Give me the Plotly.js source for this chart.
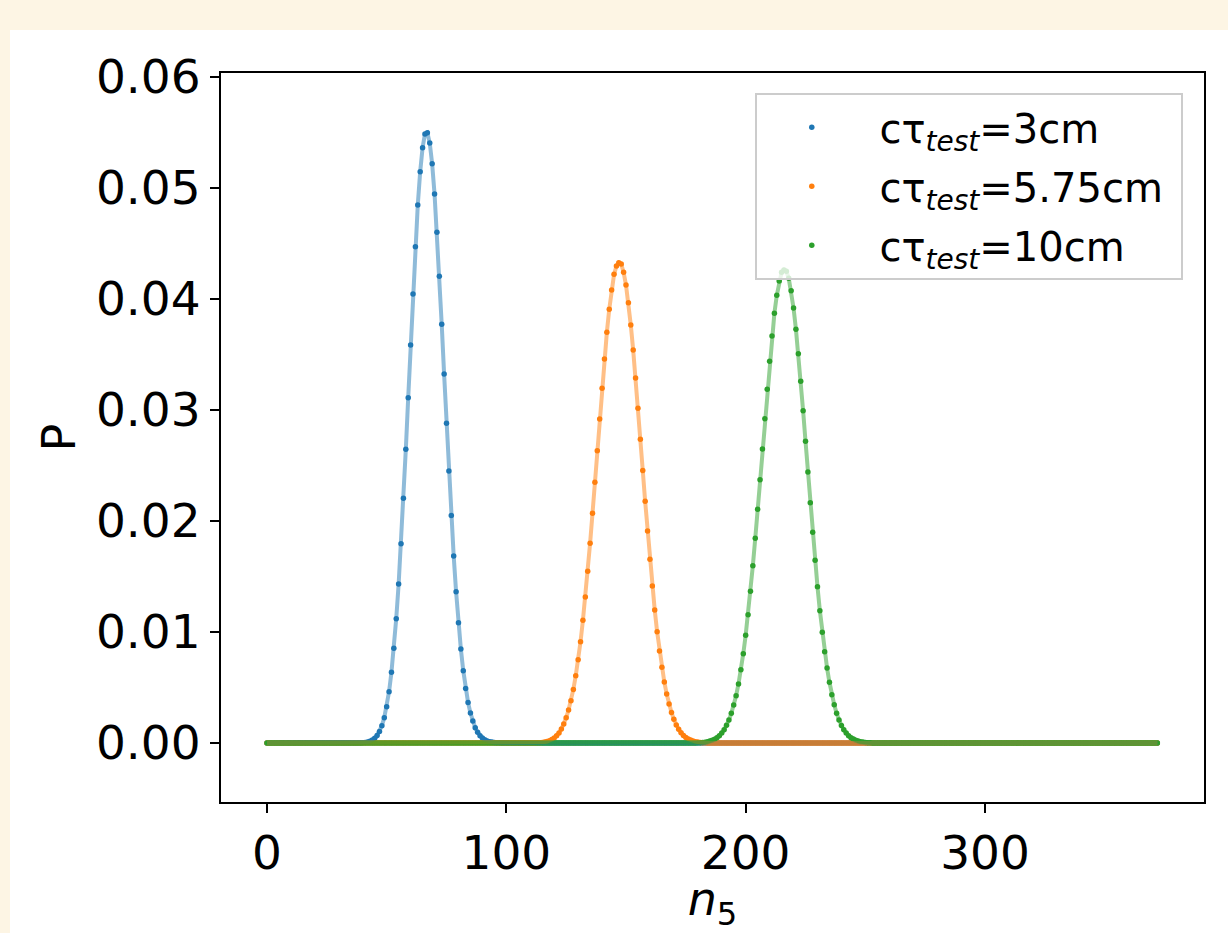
<!DOCTYPE html>
<html>
<head>
<meta charset="utf-8">
<script src="https://cdn.plot.ly/plotly-3.0.1.min.js"></script>
<style>
  html, body { margin: 0; padding: 0; background: #fdf5e4; width: 1228px; height: 933px; overflow: hidden; }
  #chart { position: absolute; left: 10px; top: 30px; width: 1218px; height: 903px; background: #ffffff; }
</style>
</head>
<body>
<div id="chart"></div>
<script>
// n5 runs over integers 0..372
const nMax = 372;
const seriesNames = ["\u00A0cτ<sub><i>test</i></sub>=3cm", "\u00A0cτ<sub><i>test</i></sub>=5.75cm\u00A0", "\u00A0cτ<sub><i>test</i></sub>=10cm"];
const seriesColors = ["#1f77b4", "#ff7f0e", "#2ca02c"];

// non-zero part of each series, starting at the given n5; all other n5 are 0
const blueStart = 39;
const blueVals = [0.00001, 0.00003, 0.00005, 0.00009, 0.00016, 0.00027, 0.00043, 0.00068, 0.00104, 0.00156,
  0.00228, 0.00327, 0.00462, 0.00637, 0.00853, 0.0112, 0.01432, 0.01796, 0.02204, 0.02646,
  0.03111, 0.03586, 0.04045, 0.04471, 0.04847, 0.05146, 0.05363, 0.05487, 0.05498, 0.05405,
  0.05219, 0.04946, 0.04601, 0.04204, 0.03772, 0.03324, 0.0288, 0.0245, 0.0205, 0.01685,
  0.01363, 0.01084, 0.00847, 0.00652, 0.00492, 0.00366, 0.0027, 0.00198, 0.00138, 0.00096,
  0.00066, 0.00044, 0.00029, 0.00019, 0.00012, 0.00008, 0.00005, 0.00003, 0.00002, 0.00001];

const orangeStart = 112;
const orangeVals = [0.00001, 0.00002, 0.00003, 0.00005, 0.00008, 0.00013, 0.0002, 0.00031, 0.00045, 0.00065,
  0.00091, 0.00126, 0.00171, 0.00228, 0.00297, 0.00381, 0.00483, 0.00606, 0.0075, 0.00913,
  0.01105, 0.01315, 0.01547, 0.01799, 0.02069, 0.02348, 0.02633, 0.02919, 0.03195, 0.0346,
  0.037, 0.03907, 0.04081, 0.04222, 0.04297, 0.04327, 0.04315, 0.0424, 0.04126, 0.03967,
  0.03766, 0.0354, 0.03288, 0.03015, 0.02736, 0.02456, 0.02177, 0.0191, 0.01655, 0.01414,
  0.01198, 0.01003, 0.00829, 0.00682, 0.0055, 0.00441, 0.00351, 0.00275, 0.00213, 0.00163,
  0.00123, 0.00092, 0.00068, 0.0005, 0.00036, 0.00026, 0.00018, 0.00012, 0.00008, 0.00005,
  0.00003, 0.00002, 0.00001];

const greenStart = 179;
const greenVals = [0.00001, 0.00002, 0.00003, 0.00005, 0.00007, 0.00011, 0.00017, 0.00024, 0.00034, 0.00048,
  0.00066, 0.0009, 0.0012, 0.00159, 0.00207, 0.00267, 0.00342, 0.00426, 0.00532, 0.0066,
  0.00805, 0.0097, 0.01156, 0.01367, 0.01597, 0.01844, 0.02105, 0.02372, 0.02649, 0.02922,
  0.03186, 0.03439, 0.03667, 0.03871, 0.04033, 0.04162, 0.0424, 0.04261, 0.0425, 0.04186,
  0.04075, 0.03919, 0.03727, 0.03507, 0.03258, 0.02994, 0.02718, 0.02441, 0.02165, 0.01898,
  0.01646, 0.01408, 0.01192, 0.00997, 0.00823, 0.00676, 0.00547, 0.00435, 0.00345, 0.00267,
  0.00207, 0.00158, 0.0012, 0.0009, 0.00066, 0.00048, 0.00035, 0.00025, 0.00017, 0.00012,
  0.00008, 0.00005, 0.00003, 0.00002, 0.00001];

const xTicks = [0, 100, 200, 300];
const yTicks = [0, 0.01, 0.02, 0.03, 0.04, 0.05, 0.06];

const nVals = [];
for (let i = 0; i <= nMax; i++) nVals.push(i);
function fullSeries(start, vals) {
  return nVals.map(n => (n >= start && n < start + vals.length) ? vals[n - start] : 0);
}
const ys = [fullSeries(blueStart, blueVals), fullSeries(orangeStart, orangeVals), fullSeries(greenStart, greenVals)];

const traces = [];
// dots first (matplotlib draws scatter collections beneath lines)
for (let k = 0; k < 3; k++) {
  traces.push({
    x: nVals, y: ys[k], type: 'scatter', mode: 'markers', name: seriesNames[k],
    legendgroup: 'g' + k,
    marker: { color: seriesColors[k], size: 5.5, line: { width: 0 } },
    showlegend: true, hoverinfo: 'skip'
  });
}
for (let k = 0; k < 3; k++) {
  traces.push({
    x: nVals, y: ys[k], type: 'scatter', mode: 'lines', opacity: 0.5,
    legendgroup: 'g' + k,
    line: { color: seriesColors[k], width: 4 },
    showlegend: false, hoverinfo: 'skip'
  });
}

const fontFam = 'DejaVu Sans, sans-serif';
const layout = {
  width: 1218, height: 903,
  margin: { l: 211, r: 24, t: 43, b: 131 },
  paper_bgcolor: '#ffffff', plot_bgcolor: '#ffffff',
  font: { family: fontFam, color: '#000000', size: 46 },
  showlegend: true,
  xaxis: {
    range: [-19.22, 391.5], tickvals: xTicks, ticktext: xTicks.map(String),
    showline: true, mirror: true, linecolor: '#000000', linewidth: 2,
    ticks: 'outside', ticklen: 9, tickwidth: 2, tickcolor: '#000000',
    showgrid: false, zeroline: false, automargin: false,
    tickfont: { family: fontFam, size: 47, color: '#000000' },
    title: { text: '<i>n</i><sub>5</sub>', font: { family: fontFam, size: 46, color: '#000000' }, standoff: 2 }
  },
  yaxis: {
    range: [-0.005315, 0.06036], tickvals: yTicks, ticktext: yTicks.map(v => v.toFixed(2)),
    showline: true, mirror: true, linecolor: '#000000', linewidth: 2,
    ticks: 'outside', ticklen: 9, tickwidth: 2, tickcolor: '#000000',
    showgrid: false, zeroline: false, automargin: false,
    tickfont: { family: fontFam, size: 47, color: '#000000' },
    title: { text: 'P', font: { family: fontFam, size: 46, color: '#000000' }, standoff: 6 }
  },
  legend: {
    x: 0.543, y: 0.973, xanchor: 'left', yanchor: 'top',
    bgcolor: 'rgba(255,255,255,0.8)', bordercolor: '#cccccc', borderwidth: 2,
    font: { family: fontFam, size: 40, color: '#000000' },
    itemwidth: 100, tracegroupgap: 4
  }
};

Plotly.newPlot('chart', traces, layout, { displayModeBar: false, staticPlot: true });
</script>
</body>
</html>
